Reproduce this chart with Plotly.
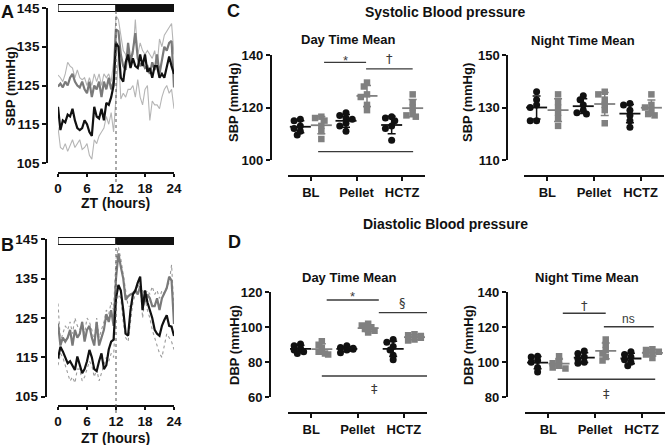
import numpy as np
import plotly.graph_objects as go

# ---------------- data ----------------
hours = [0, 0.5, 1, 1.5, 2, 2.5, 3, 3.5, 4, 4.5, 5, 5.5, 6, 6.5, 7, 7.5, 8, 8.5, 9, 9.5,
         10, 10.5, 11, 11.5, 12, 12.5, 13, 13.5, 14, 14.5, 15, 15.5, 16, 16.5, 17, 17.5,
         18, 18.5, 19, 19.5, 20, 20.5, 21, 21.5, 22, 22.5, 23, 23.5, 24]

# Panel A (SBP, 24 h profile)
a_black = [119.5, 113.5, 116, 115.5, 117.5, 117, 119, 116, 114, 113.5, 114, 116, 115, 113, 112,
           119.5, 117, 116.5, 119, 116, 120.5, 120, 122, 125, 136, 135, 127, 126, 131, 133, 129.5,
           132, 130, 129.5, 133, 130, 133, 128.5, 129.5, 127, 130, 130, 127, 128, 127, 129.5,
           132.5, 130, 128]
a_gray = [124.7, 125.5, 124.5, 126, 125, 127, 128, 126, 125, 124.5, 126, 124, 123, 126, 122, 125,
          124, 126, 122, 126, 124, 127, 124, 126, 139.5, 139, 133, 130, 129, 136, 131, 134, 138.5,
          132, 130, 131, 129.5, 130, 128, 131, 129, 133, 128, 132, 135, 134, 136, 136.5, 124.5]
a_upper = [127.7, 127, 126, 128, 131, 130, 129.5, 127, 129, 127, 126.5, 127, 125, 127, 125, 128,
           126, 128, 125, 128, 127, 128, 126, 131, 143, 142, 138, 134, 133, 131, 132, 133, 142,
           133, 136, 134, 133, 134, 133, 132, 134, 130, 137, 135, 138, 139, 140, 141, 133]
a_lower = [114.2, 109, 108.5, 110, 108, 109.5, 111, 109, 110, 111, 108.5, 109, 110, 107, 106, 111,
           110, 112, 113, 114, 117, 115, 118, 113, 122, 133, 121.5, 123, 122, 124, 124, 125, 122,
           126.5, 122, 120, 124, 125, 116, 121, 120, 120, 119, 122, 124, 125, 123, 124, 119]

# Panel B (DBP, 24 h profile)
b_black = [114.7, 117.7, 116.5, 115, 113.5, 114, 113, 111.8, 115.2, 113, 111, 112, 114, 116.9,
           115, 112, 111.5, 114, 116, 112, 113, 117, 119, 119.5, 130, 133.4, 132, 127, 121,
           120.5, 127, 131, 132, 134, 135.5, 127, 132, 129, 127, 125, 122, 121, 120.5, 123,
           124.5, 125.7, 123, 122.8, 120.4]
b_gray = [123.6, 118, 120, 119, 120, 122, 118, 122, 120, 121, 124, 119, 122, 123, 120, 118, 124,
          118, 120, 122, 126, 124, 127, 123, 135, 141.4, 138, 135, 129.6, 130.5, 131, 131.3,
          132, 131, 133, 130, 129, 131, 130, 128, 128, 130, 127, 130, 131.3, 132.6, 135.5, 134.5,
          123.5]
b_upper = [128.7, 119, 121, 123, 122, 124, 121, 125, 123, 122, 124, 121, 125, 124, 122, 119, 125,
           120, 122, 124, 127, 126, 129, 127, 140, 143, 140, 136, 131, 128, 128, 131, 132, 133,
           133, 132, 131, 132, 131, 133, 131, 132, 130, 132, 131, 133, 134, 138.5, 127]
b_lower = [113, 116, 115, 113, 111, 109, 110, 108.5, 112, 112, 109, 110, 112, 114, 113, 110, 112,
           109, 111, 113, 115, 114, 116, 115, 128, 131, 130, 124, 120, 119, 124, 129, 131, 133,
           134, 125, 130, 127, 125, 122, 120, 118, 116, 115, 118, 121, 120, 119, 117]

categories = ["BL", "Pellet", "HCTZ"]

# Panel C: SBP means (per animal), group 1 = black circles, group 2 = gray squares
sbp_day_g1 = [[115.5, 115, 113, 112, 111, 109.5],
              [118, 117, 116, 115.5, 114, 113, 111],
              [116.5, 116, 115, 113, 112, 107.5]]
sbp_day_g2 = [[116.5, 116, 115, 113, 111, 108],
              [129.5, 128, 125, 124, 121, 119],
              [125, 122, 120, 118, 117, 116.5]]
sbp_night_g1 = [[136, 133, 131, 130, 125, 125],
                [134.5, 133, 131, 129, 128, 127.5],
                [131.5, 131, 129, 127, 125, 122.5]]
sbp_night_g2 = [[135, 132, 130, 128, 126, 123],
                [136, 135, 133, 131, 129, 124],
                [135, 131, 130, 129, 127.5, 127]]

# Panel D: DBP means
dbp_day_g1 = [[90.5, 89.5, 88, 87, 86, 85],
              [89.5, 88.5, 88, 87.5, 87, 85.5],
              [93, 91.5, 89, 87, 84, 81.5]]
dbp_day_g2 = [[92, 90, 88, 86, 85, 84.5],
              [102, 101, 100, 99, 98, 97],
              [96, 95.5, 95, 94, 93, 92.5]]
dbp_night_g1 = [[103.5, 103, 101, 100, 97, 94.5],
                [106.5, 105, 103, 102, 100, 99.5],
                [106, 104.5, 103, 101.5, 100, 98]]
dbp_night_g2 = [[103.5, 101, 99.5, 98, 97, 96.5],
                [113, 110, 107, 105, 103, 101],
                [107.5, 107, 106, 105, 104.5, 102.5]]

# significance brackets: (x from, x to, y line, label, y label)
sig_sbp_day = [(0.29, 1.21, 137.2, "*", 139.0), (1.21, 2.23, 134.7, "†", 138.6),
               (0.16, 2.24, 103.2, "‡", 98.3)]
sig_dbp_day = [(0.335, 1.46, 115.6, "*", 119.2), (1.46, 2.5, 108.4, "§", 114.4),
               (0.23, 2.5, 72.2, "‡", 65.0)]
sig_dbp_night = [(0.31, 1.23, 128.0, "†", 132.6), (1.19, 2.26, 120.3, "ns", 124.8),
                 (0.2, 2.29, 90.3, "‡", 82.0)]

# ---------------- styling ----------------
W, H = 666, 445
FONT = "Liberation Sans, Arial, sans-serif"
SYMFONT = "DejaVu Sans, Liberation Sans, sans-serif"
BLACK = "#111111"
GRAY = "#7a7a7a"
LIGHT = "#b5b5b5"


def PX(x):
    return x / W


def PY(y):
    return 1 - y / H


fig = go.Figure()


def add_profile(xa, ya, black, gray, upper, lower, light_dash):
    for s in (upper, lower):
        fig.add_trace(go.Scatter(x=hours, y=s, xaxis=xa, yaxis=ya, mode="lines",
                                 line=dict(color=LIGHT if light_dash == "solid" else "#9a9a9a",
                                           width=1.1, dash=light_dash),
                                 showlegend=False, hoverinfo="skip"))
    fig.add_trace(go.Scatter(x=hours, y=gray, xaxis=xa, yaxis=ya, mode="lines",
                             line=dict(color=GRAY, width=2.2), showlegend=False))
    fig.add_trace(go.Scatter(x=hours, y=black, xaxis=xa, yaxis=ya, mode="lines",
                             line=dict(color=BLACK, width=2.2), showlegend=False))


add_profile("x", "y", a_black, a_gray, a_upper, a_lower, "solid")
add_profile("x2", "y2", b_black, b_gray, b_upper, b_lower, "dot")


def swarm(vals, ypx_per_unit, xpx_per_unit=46.0, size=7.0):
    placed = []
    order = sorted(range(len(vals)), key=lambda i: -vals[i])
    res = [0.0] * len(vals)
    for i in order:
        yp = vals[i] * ypx_per_unit
        xp = 0.0
        for k in (0, -1, 1, -2, 2):
            xp = k * size * 0.45
            if all((xp - a) ** 2 + (yp - b) ** 2 >= (size * 0.62) ** 2 for a, b in placed):
                break
        placed.append((xp, yp))
        res[i] = xp / xpx_per_unit
    return res


def add_dots(xa, ya, g1, g2, ypx):
    for groups, color, symbol, size, shift in ((g1, BLACK, "circle", 7, -0.23),
                                               (g2, "#808080", "square", 6.5, 0.23)):
        xs, ys, mx, my, sd = [], [], [], [], []
        for ci, vals in enumerate(groups):
            offs = swarm(vals, ypx)
            for v, o in zip(vals, offs):
                xs.append(ci + shift + o)
                ys.append(v)
            mx.append(ci + shift)
            my.append(float(np.mean(vals)))
            sd.append(float(np.std(vals, ddof=1)))
        fig.add_trace(go.Scatter(x=xs, y=ys, xaxis=xa, yaxis=ya, mode="markers",
                                 marker=dict(color=color, symbol=symbol, size=size, line=dict(width=0)),
                                 showlegend=False))
        fig.add_trace(go.Scatter(x=mx, y=my, xaxis=xa, yaxis=ya, mode="markers",
                                 marker=dict(symbol="line-ew", size=15,
                                             line=dict(color=color, width=1.8)),
                                 error_y=dict(type="data", array=sd, visible=True, color=color,
                                              thickness=1.5, width=4),
                                 showlegend=False))


add_dots("x3", "y3", sbp_day_g1, sbp_day_g2, 2.625)
add_dots("x4", "y4", sbp_night_g1, sbp_night_g2, 2.625)
add_dots("x5", "y5", dbp_day_g1, dbp_day_g2, 1.75)
add_dots("x6", "y6", dbp_night_g1, dbp_night_g2, 1.75)

shapes = []
annotations = []


def sig(xa, ya, items):
    for x0, x1, yl, lab, ylab in items:
        shapes.append(dict(type="line", xref=xa, yref=ya, x0=x0, x1=x1, y0=yl, y1=yl,
                           line=dict(color="#3a3a3a", width=1.4)))
        annotations.append(dict(xref=xa, yref=ya, x=(x0 + x1) / 2, y=ylab, text=lab,
                                showarrow=False, yshift=-3 if lab == "*" else 0,
                                font=dict(family=FONT if lab in ("*", "ns") else SYMFONT,
                                          size=13 if lab != "ns" else 12,
                                          color="#3a3a3a")))


sig("x3", "y3", sig_sbp_day)
sig("x5", "y5", sig_dbp_day)
sig("x6", "y6", sig_dbp_night)

# light/dark bars and ZT12 line
for xa, top, bot, v0, v1 in (("x", 4.5, 11.5, 11, 182), ("x2", 237.5, 244.5, 244, 413)):
    shapes.append(dict(type="rect", xref=xa, yref="paper", x0=0, x1=12, y0=PY(bot), y1=PY(top),
                       fillcolor="white", line=dict(color=BLACK, width=1.2)))
    shapes.append(dict(type="rect", xref=xa, yref="paper", x0=12, x1=24, y0=PY(bot), y1=PY(top),
                       fillcolor=BLACK, line=dict(color=BLACK, width=1.2)))
    shapes.append(dict(type="line", xref=xa, yref="paper", x0=12, x1=12, y0=PY(v1), y1=PY(v0),
                       line=dict(color="#555555", width=1, dash="dot")))


def text(x, y, s, size, angle=0, bold=True):
    annotations.append(dict(xref="paper", yref="paper", x=PX(x), y=PY(y),
                            text=("<b>%s</b>" % s) if bold else s, showarrow=False,
                            textangle=angle, xanchor="center", yanchor="middle",
                            font=dict(family=FONT, size=size, color=BLACK)))


text(7, 12, "A", 18)
text(7, 245, "B", 18)
text(233, 11, "C", 18)
text(234, 242, "D", 18)
text(10, 87, "SBP (mmHg)", 13, -90)
text(116, 203, "ZT (hours)", 14)
text(116, 438, "ZT (hours)", 14)
text(445, 12, "Systolic Blood pressure", 14)
text(445, 224, "Diastolic Blood pressure", 14)
text(348, 39, "Day Time Mean", 13)
text(583, 40, "Night Time Mean", 13)
text(349, 277, "Day Time Mean", 13)
text(587, 277, "Night Time Mean", 13)
text(234, 103, "SBP (mmHg)", 13, -90)
text(468, 103, "SBP (mmHg)", 13, -90)
text(234, 345, "DBP (mmHg)", 13, -90)
text(468, 345, "DBP (mmHg)", 13, -90)

AX = dict(showline=True, linecolor=BLACK, linewidth=1.8, ticks="outside", ticklen=4,
          tickwidth=1.6, tickcolor=BLACK, showgrid=False, zeroline=False, anchor="free",
          fixedrange=True, automargin=False, ticklabeloverflow="allow")


def tick_font(size):
    return dict(family=FONT, size=size, color=BLACK, weight="bold")


layout_axes = {
    "xaxis": dict(AX, domain=[PX(58), PX(174)], range=[0, 24], position=PY(173), ticklen=3,
                  tickvals=[0, 6, 12, 18, 24], tickfont=tick_font(13.5)),
    "yaxis": dict(AX, domain=[PY(163), PY(8)], range=[105, 145], position=PX(47),
                  tickvals=[105, 115, 125, 135, 145], tickfont=tick_font(13.5)),
    "xaxis2": dict(AX, domain=[PX(58), PX(174)], range=[0, 24], position=PY(406), ticklen=3,
                   tickvals=[0, 6, 12, 18, 24], tickfont=tick_font(13.5)),
    "yaxis2": dict(AX, domain=[PY(396.7), PY(239.3)], range=[105, 145], position=PX(45.5),
                   tickvals=[105, 115, 125, 135, 145], tickfont=tick_font(13.5)),
    "xaxis3": dict(AX, domain=[PX(288), PX(425)], range=[-0.5, 2.5], position=PY(176),
                   tickvals=[0, 1, 2], ticktext=categories, tickfont=tick_font(13)),
    "yaxis3": dict(AX, domain=[PY(160), PY(55)], range=[100, 140], position=PX(270.7),
                   tickvals=[100, 120, 140], tickfont=tick_font(13)),
    "xaxis4": dict(AX, domain=[PX(524), PX(664)], range=[-0.5, 2.5], position=PY(176),
                   tickvals=[0, 1, 2], ticktext=categories, tickfont=tick_font(13)),
    "yaxis4": dict(AX, domain=[PY(160), PY(55)], range=[110, 150], position=PX(507.3),
                   tickvals=[110, 130, 150], tickfont=tick_font(13)),
    "xaxis5": dict(AX, domain=[PX(288), PX(427)], range=[-0.5, 2.5], position=PY(413.3),
                   tickvals=[0, 1, 2], ticktext=categories, tickfont=tick_font(13)),
    "yaxis5": dict(AX, domain=[PY(397.3), PY(292.3)], range=[60, 120], position=PX(270),
                   tickvals=[60, 80, 100, 120], tickfont=tick_font(13)),
    "xaxis6": dict(AX, domain=[PX(525), PX(665)], range=[-0.5, 2.5], position=PY(413.3),
                   tickvals=[0, 1, 2], ticktext=categories, tickfont=tick_font(13)),
    "yaxis6": dict(AX, domain=[PY(397.3), PY(292.3)], range=[80, 140], position=PX(506.7),
                   tickvals=[80, 100, 120, 140], tickfont=tick_font(13)),
}

fig.update_layout(width=W, height=H, margin=dict(l=0, r=0, t=0, b=0, pad=0),
                  paper_bgcolor="white", plot_bgcolor="white", showlegend=False,
                  font=dict(family=FONT, color=BLACK), shapes=shapes, annotations=annotations,
                  **layout_axes)

fig.write_html("out.html", config={"displayModeBar": False},
               post_script="document.body.style.margin='0';document.body.style.padding='0';")
